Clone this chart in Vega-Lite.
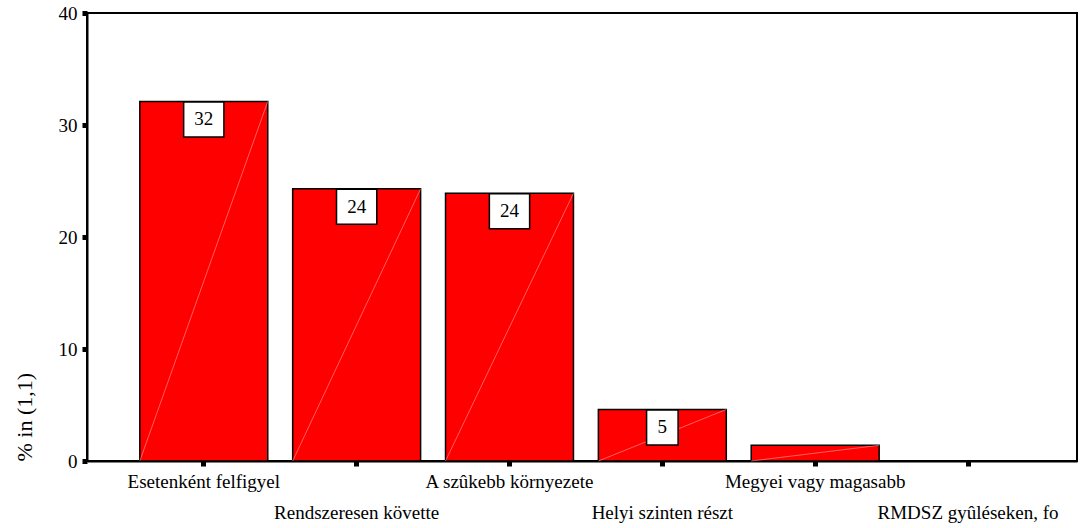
{
  "$schema": "https://vega.github.io/schema/vega-lite/v6.json",
  "width": 990,
  "height": 448,
  "autosize": {"type": "none"},
  "padding": {"left": 87, "top": 13, "right": 5, "bottom": 67},
  "background": "white",
  "config": {
    "view": {"stroke": "black", "strokeWidth": 2},
    "font": "Liberation Serif"
  },
  "data": {
    "values": [
      {"category": "Esetenként felfigyel", "pct": 32.1},
      {"category": "Rendszeresen követte", "pct": 24.3},
      {"category": "A szûkebb környezete", "pct": 23.9},
      {"category": "Helyi szinten részt", "pct": 4.6},
      {"category": "Megyei vagy magasabb", "pct": 1.4},
      {"category": "RMDSZ gyûléseken, fo", "pct": 0}
    ]
  },
  "encoding": {
    "x": {
      "field": "category",
      "type": "nominal",
      "sort": null,
      "scale": {"paddingInner": 0.163, "paddingOuter": 0.32, "align": 0.54},
      "axis": {
        "title": null,
        "labelAngle": 0,
        "labelFontSize": 19,
        "labelColor": "black",
        "labelPadding": 6,
        "labelOverlap": false,
        "labelLimit": 0,
        "labelLineHeight": 31,
        "labelExpr": "round(datum.index*5) % 2 == 1 ? ['', datum.label] : datum.label",
        "tickSize": 5,
        "tickWidth": 5,
        "tickColor": "black",
        "domainColor": "black",
        "domainWidth": 2
      }
    }
  },
  "layer": [
    {
      "mark": {"type": "bar", "color": "#ff0000", "stroke": "black", "strokeWidth": 1.5},
      "encoding": {
        "y": {
          "field": "pct",
          "type": "quantitative",
          "scale": {"domain": [0, 40], "nice": false},
          "axis": {
            "title": "% in (1,1)",
            "titleFontSize": 22,
            "titleFontWeight": "normal",
            "titleColor": "black",
            "titleAnchor": "start",
            "titlePadding": 22,
            "values": [0, 10, 20, 30, 40],
            "grid": false,
            "labelFontSize": 19,
            "labelColor": "black",
            "labelPadding": 5,
            "tickSize": 5,
            "tickWidth": 5,
            "tickColor": "black",
            "domainColor": "black",
            "domainWidth": 2
          }
        }
      }
    },
    {
      "transform": [{"filter": "datum.pct > 0"}],
      "mark": {"type": "rule", "color": "#ffa0a0", "strokeWidth": 0.6},
      "encoding": {
        "x": {"field": "category", "type": "nominal", "sort": null, "bandPosition": 1},
        "x2": {"field": "category", "bandPosition": 0},
        "y": {"field": "pct", "type": "quantitative"},
        "y2": {"datum": 0}
      }
    },
    {
      "transform": [{"filter": "datum.pct >= 10"}],
      "mark": {"type": "point", "shape": "M-1.15,-1H1.15V1H-1.15Z", "size": 1225, "filled": true, "fill": "white", "stroke": "black", "strokeWidth": 1.5, "opacity": 1, "yOffset": 18},
      "encoding": {"y": {"field": "pct", "type": "quantitative"}}
    },
    {
      "transform": [{"filter": "datum.pct >= 2 && datum.pct < 10"}],
      "mark": {"type": "point", "shape": "M-0.9,-1H0.9V1H-0.9Z", "size": 1225, "filled": true, "fill": "white", "stroke": "black", "strokeWidth": 1.5, "opacity": 1, "yOffset": 18},
      "encoding": {"y": {"field": "pct", "type": "quantitative"}}
    },
    {
      "transform": [{"filter": "datum.pct >= 2"}],
      "mark": {"type": "text", "fontSize": 19, "color": "black", "baseline": "middle", "yOffset": 18},
      "encoding": {
        "y": {"field": "pct", "type": "quantitative"},
        "text": {"field": "pct", "type": "quantitative", "format": ".0f"}
      }
    }
  ]
}
